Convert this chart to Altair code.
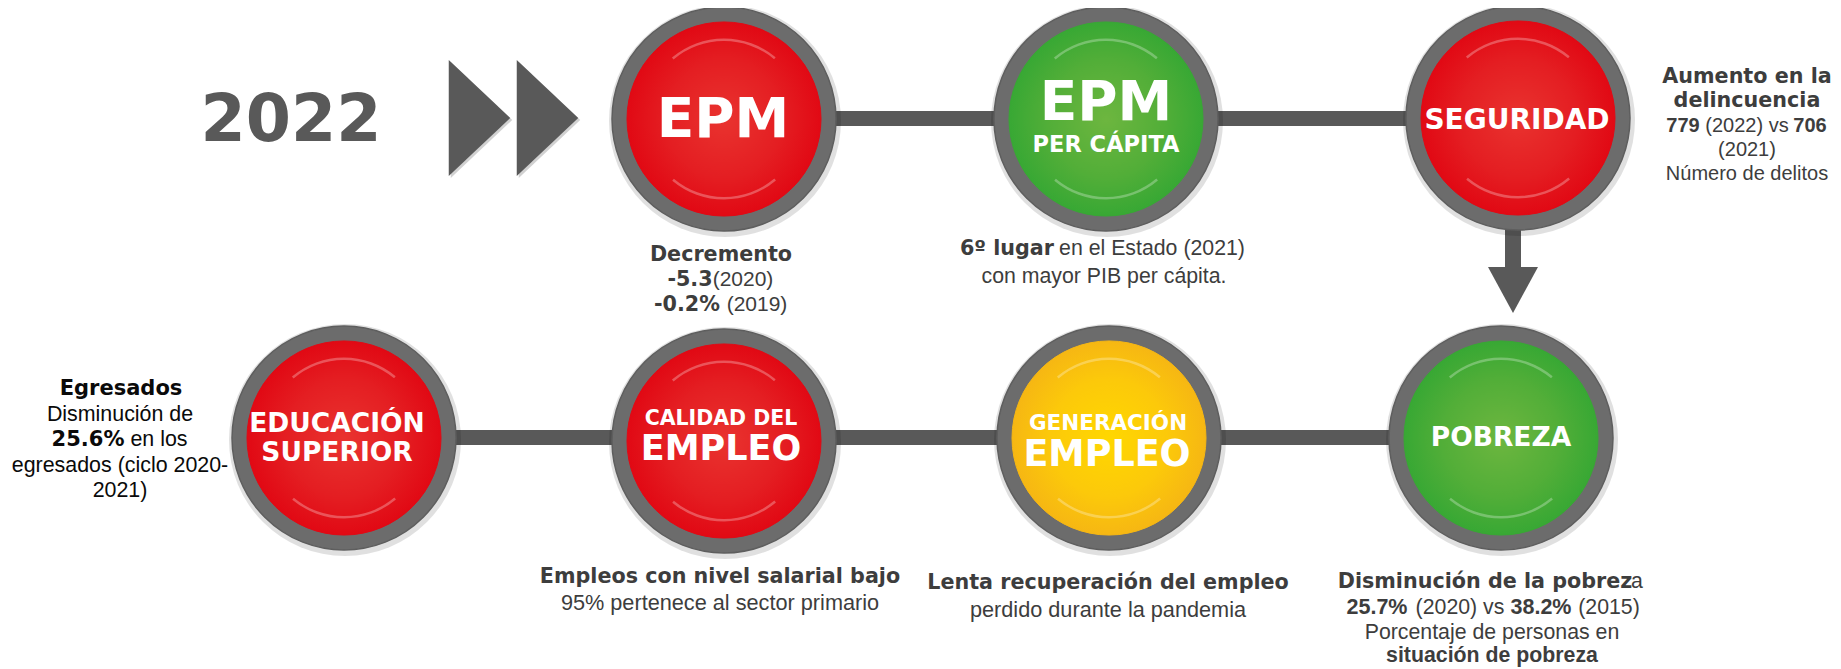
import altair as alt
import pandas as pd

# ------------------------------------------------------------------ data
anio = "2022"
nodos = ["EPM", "EPM PER CÁPITA", "SEGURIDAD", "POBREZA",
         "GENERACIÓN EMPLEO", "CALIDAD DEL EMPLEO", "EDUCACIÓN SUPERIOR"]
estado = ["rojo", "verde", "rojo", "verde", "amarillo", "rojo", "rojo"]

# layout of the nodes (pixel positions of the reference)
nodo_x = [724, 1106, 1518, 1501, 1109, 724, 344]
nodo_y = [119, 119, 118, 438, 438, 441, 438]

# labels inside each circle: (node, text, dx, dy, size)
etiquetas = [
    (0, "EPM", -1, 1, 55),
    (1, "EPM", 0, -16, 55),
    (1, "PER CÁPITA", 0, 26, 22.5),
    (2, "SEGURIDAD", -1, 3, 28),
    (3, "POBREZA", 0, 0, 26.5),
    (4, "GENERACIÓN", -1, -14, 21.5),
    (4, "EMPLEO", -2, 17, 36.5),
    (5, "CALIDAD DEL", -3, -22, 20.5),
    (5, "EMPLEO", -3, 8, 35),
    (6, "EDUCACIÓN", -7, -14, 26.5),
    (6, "SUPERIOR", -7, 15, 26.5),
]

# annotation runs: (text, style, x, y, size, color)
DARK = "#3d3d3d"
BLACK = "#0a0a0a"
anotaciones = [
    # EPM
    ("Decremento", "heavy", 721, 255, 20.7, DARK),
    ("-5.3", "heavy", 690, 280, 20.7, DARK),
    ("(2020)", "regular", 743, 280, 21, DARK),
    ("-0.2%", "heavy", 687, 305, 20.7, DARK),
    ("(2019)", "regular", 757, 305, 21, DARK),
    # EPM per capita
    ("6º lugar", "heavy", 1007, 249, 20.7, DARK),
    ("en el Estado (2021)", "regular", 1152, 249, 21.3, DARK),
    ("con mayor PIB per cápita.", "regular", 1104, 277, 21.3, DARK),
    # Seguridad
    ("Aumento en la", "heavy", 1747, 77, 20.7, DARK),
    ("delincuencia", "heavy", 1747, 101, 20.7, DARK),
    ("779", "bold", 1683, 126, 20, DARK),
    ("(2022) vs", "regular", 1747, 126, 20, DARK),
    ("706", "bold", 1810, 126, 20, DARK),
    ("(2021)", "regular", 1747, 150, 20, DARK),
    ("Número de delitos", "regular", 1747, 174, 20, DARK),
    # Educacion superior
    ("Egresados", "heavy", 121, 389, 21, BLACK),
    ("Disminución de", "regular", 120, 415, 21.4, BLACK),
    ("25.6%", "heavy", 88, 440, 21, BLACK),
    ("en los", "regular", 159, 440, 21.4, BLACK),
    ("egresados (ciclo 2020-", "regular", 120, 466, 21.4, BLACK),
    ("2021)", "regular", 120, 491, 21.4, BLACK),
    # Calidad del empleo
    ("Empleos con nivel salarial bajo", "heavy", 720, 577, 20.7, DARK),
    ("95% pertenece al sector primario", "regular", 720, 603, 21.7, DARK),
    # Generacion empleo
    ("Lenta recuperación del empleo", "heavy", 1108, 583, 20.7, DARK),
    ("perdido durante la pandemia", "regular", 1108, 610, 21.7, DARK),
    # Pobreza
    ("Disminución de la pobrez", "heavy", 1485, 582, 20.7, DARK),
    ("a", "regular", 1637, 582, 21.3, DARK),
    ("25.7%", "bold", 1377, 608, 21.5, DARK),
    ("(2020) vs", "regular", 1460, 608, 21.3, DARK),
    ("38.2%", "bold", 1541, 608, 21.5, DARK),
    ("(2015)", "regular", 1609, 608, 21.3, DARK),
    ("Porcentaje de personas en", "regular", 1492, 633, 21.3, DARK),
    ("situación de pobreza", "bold", 1492, 656, 21.3, DARK),
    # year
    (anio, "heavy", 291, 121, 65, "#595959"),
]

# connectors and arrow marks
conectores = pd.DataFrame({
    "x": [724, 344, 1513], "x2": [1518, 1501, 1513],
    "y": [118.5, 437.5, 226], "y2": [118.5, 437.5, 272],
    "w": [15, 15, 16],
})
flechas = pd.DataFrame({"x": [479.5, 547.5], "y": [118, 118]})
punta = pd.DataFrame({"x": [1513], "y": [290]})

# --------------------------------------------------------------- helpers
W, H = 1825, 661
X = lambda f="x": alt.X(f"{f}:Q", scale=alt.Scale(domain=[8, 8 + W], nice=False, zero=False), axis=None)
Y = lambda f="y": alt.Y(f"{f}:Q", scale=alt.Scale(domain=[8, 8 + H], nice=False, zero=False, reverse=True), axis=None)

df_nodos = pd.DataFrame({"nodo": nodos, "estado": estado, "x": nodo_x, "y": nodo_y})

grad = {
    "rojo": ["#e9332f", "#e41e22", "#e10914"],
    "verde": ["#6db63f", "#52ae38", "#38a834"],
    "amarillo": ["#ffd700", "#fcc90a", "#f6b713"],
}

layers = []

# connectors
layers.append(alt.Chart(conectores).mark_rule(color="#595959").encode(
    x=X("x"), x2="x2", y=Y("y"), y2="y2",
    strokeWidth=alt.StrokeWidth("w:Q", scale=None)))

# double chevron (shadow + shape)
tri = "M-0.53,-1 L0.53,0 L-0.53,1 Z"
layers.append(alt.Chart(flechas).transform_calculate(xs="datum.x+2", ys="datum.y+2").mark_point(
    shape=tri, size=13456, filled=True, color="#000000", opacity=0.18).encode(x=X("xs"), y=Y("ys")))
layers.append(alt.Chart(flechas).mark_point(
    shape=tri, size=13456, filled=True, color="#595959", opacity=1).encode(x=X(), y=Y()))

# arrow head down
layers.append(alt.Chart(punta).mark_point(
    shape="M-1,-0.92 L1,-0.92 L0,0.92 Z", size=2500, filled=True, color="#595959", opacity=1
).encode(x=X(), y=Y()))

# circle shadow and ring
layers.append(alt.Chart(df_nodos).transform_calculate(xs="datum.x+1", ys="datum.y+2").mark_circle(
    size=232 ** 2, color="#000000", opacity=0.12).encode(x=X("xs"), y=Y("ys")))
layers.append(alt.Chart(df_nodos).mark_circle(
    size=224 ** 2, color="#6c6c6c", opacity=1, stroke="#5e5e5e", strokeWidth=1.5).encode(x=X(), y=Y()))

# coloured face with radial gradient
for est, stops in grad.items():
    g = {"gradient": "radial", "x1": 0.5, "y1": 0.5, "r1": 0, "x2": 0.5, "y2": 0.5, "r2": 0.5,
         "stops": [{"offset": 0, "color": stops[0]}, {"offset": 0.6, "color": stops[1]},
                   {"offset": 1, "color": stops[2]}]}
    layers.append(alt.Chart(df_nodos).transform_filter(alt.datum.estado == est).mark_circle(
        size=194 ** 2, fill=g, opacity=1, stroke=stops[2], strokeWidth=1).encode(x=X(), y=Y()))

# glints
for t1, t2 in [(5.58, 6.98), (2.44, 3.84)]:
    layers.append(alt.Chart(df_nodos).mark_arc(
        theta=t1, theta2=t2, radius=78, radius2=80.5, color="#ffffff", opacity=0.28
    ).encode(x=X(), y=Y()))

# circle labels
df_et = pd.DataFrame(etiquetas, columns=["i", "t", "dx", "dy", "s"])
df_et["x"] = [nodo_x[i] + d for i, d in zip(df_et["i"], df_et["dx"])]
df_et["y"] = [nodo_y[i] + d for i, d in zip(df_et["i"], df_et["dy"])]
df_et["c"] = "#ffffff"
df_an = pd.DataFrame(anotaciones, columns=["t", "st", "x", "y", "s", "c"])

fonts = {"heavy": ("DejaVu Sans", "bold"), "bold": ("Liberation Sans", "bold"),
         "regular": ("Liberation Sans", "normal")}


def textos(df, st):
    f, w = fonts[st]
    return alt.Chart(df).mark_text(font=f, fontWeight=w, align="center", baseline="middle").encode(
        x=X(), y=Y(), text="t:N",
        size=alt.Size("s:Q", scale=None), color=alt.Color("c:N", scale=None))


layers.append(textos(df_et, "heavy"))
for st in ["heavy", "bold", "regular"]:
    layers.append(textos(df_an[df_an.st == st], st))

chart = alt.layer(*layers).properties(
    width=W, height=H, padding=0, autosize=alt.AutoSizeParams(type="none"), background="#ffffff"
).configure_view(stroke=None)

chart.save("out.html", embed_options={"renderer": "svg", "actions": False})
